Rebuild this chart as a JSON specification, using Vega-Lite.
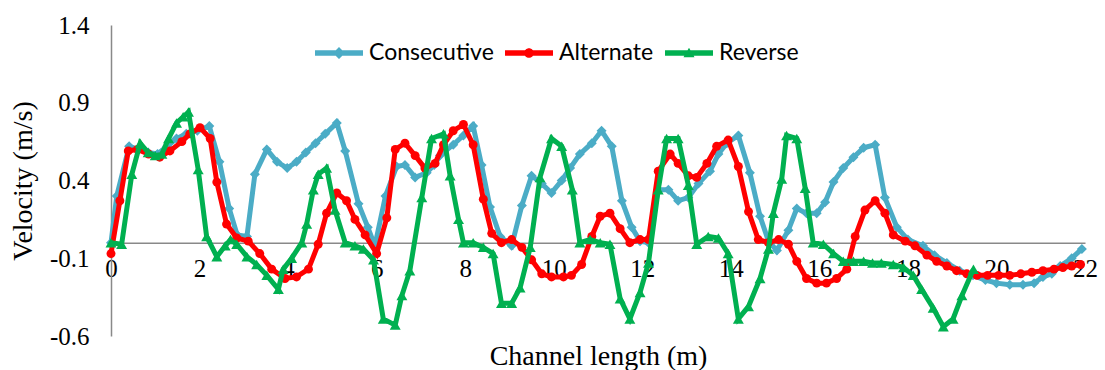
{
"$schema":"https://vega.github.io/schema/vega-lite/v6.json",
"width":974,"height":311,
"autosize":"none",
"padding":{"left":111,"top":25,"right":20,"bottom":34},
"background":"white",
"config":{"view":{"stroke":null},"font":"Liberation Serif"},
"data":{"values":[
{"series":"Consecutive","x":0,"v":0.0},{"series":"Consecutive","x":0.13,"v":0.30},{"series":"Consecutive","x":0.41,"v":0.62},{"series":"Consecutive","x":0.62,"v":0.60},{"series":"Consecutive","x":0.84,"v":0.58},{"series":"Consecutive","x":1.05,"v":0.57},{"series":"Consecutive","x":1.27,"v":0.62},{"series":"Consecutive","x":1.48,"v":0.67},{"series":"Consecutive","x":1.7,"v":0.70},{"series":"Consecutive","x":1.95,"v":0.72},{"series":"Consecutive","x":2.22,"v":0.75},{"series":"Consecutive","x":2.45,"v":0.52},{"series":"Consecutive","x":2.67,"v":0.22},{"series":"Consecutive","x":2.85,"v":0.05},{"series":"Consecutive","x":3.07,"v":0.04},{"series":"Consecutive","x":3.25,"v":0.44},{"series":"Consecutive","x":3.52,"v":0.60},{"series":"Consecutive","x":3.75,"v":0.52},{"series":"Consecutive","x":3.98,"v":0.48},{"series":"Consecutive","x":4.19,"v":0.52},{"series":"Consecutive","x":4.4,"v":0.58},{"series":"Consecutive","x":4.62,"v":0.64},{"series":"Consecutive","x":4.84,"v":0.70},{"series":"Consecutive","x":5.1,"v":0.77},{"series":"Consecutive","x":5.29,"v":0.59},{"series":"Consecutive","x":5.59,"v":0.25},{"series":"Consecutive","x":5.8,"v":0.10},{"series":"Consecutive","x":5.96,"v":-0.02},{"series":"Consecutive","x":6.2,"v":0.30},{"series":"Consecutive","x":6.45,"v":0.49},{"series":"Consecutive","x":6.64,"v":0.50},{"series":"Consecutive","x":6.87,"v":0.42},{"series":"Consecutive","x":7.13,"v":0.45},{"series":"Consecutive","x":7.3,"v":0.50},{"series":"Consecutive","x":7.43,"v":0.56},{"series":"Consecutive","x":7.73,"v":0.63},{"series":"Consecutive","x":7.96,"v":0.69},{"series":"Consecutive","x":8.18,"v":0.75},{"series":"Consecutive","x":8.37,"v":0.50},{"series":"Consecutive","x":8.56,"v":0.23},{"series":"Consecutive","x":8.79,"v":0.04},{"series":"Consecutive","x":9.05,"v":-0.02},{"series":"Consecutive","x":9.28,"v":0.24},{"series":"Consecutive","x":9.5,"v":0.43},{"series":"Consecutive","x":9.73,"v":0.38},{"series":"Consecutive","x":9.95,"v":0.32},{"series":"Consecutive","x":10.18,"v":0.40},{"series":"Consecutive","x":10.37,"v":0.48},{"series":"Consecutive","x":10.59,"v":0.57},{"series":"Consecutive","x":10.86,"v":0.64},{"series":"Consecutive","x":11.08,"v":0.72},{"series":"Consecutive","x":11.31,"v":0.62},{"series":"Consecutive","x":11.54,"v":0.27},{"series":"Consecutive","x":11.76,"v":0.10},{"series":"Consecutive","x":11.95,"v":0.01},{"series":"Consecutive","x":12.14,"v":0.0},{"series":"Consecutive","x":12.36,"v":0.34},{"series":"Consecutive","x":12.59,"v":0.34},{"series":"Consecutive","x":12.81,"v":0.27},{"series":"Consecutive","x":13.04,"v":0.29},{"series":"Consecutive","x":13.27,"v":0.38},{"series":"Consecutive","x":13.53,"v":0.46},{"series":"Consecutive","x":13.72,"v":0.57},{"series":"Consecutive","x":13.91,"v":0.64},{"series":"Consecutive","x":14.17,"v":0.69},{"series":"Consecutive","x":14.43,"v":0.45},{"series":"Consecutive","x":14.66,"v":0.17},{"series":"Consecutive","x":14.85,"v":0.01},{"series":"Consecutive","x":15.04,"v":-0.05},{"series":"Consecutive","x":15.3,"v":0.08},{"series":"Consecutive","x":15.49,"v":0.22},{"series":"Consecutive","x":15.71,"v":0.19},{"series":"Consecutive","x":15.94,"v":0.19},{"series":"Consecutive","x":16.13,"v":0.26},{"series":"Consecutive","x":16.32,"v":0.39},{"series":"Consecutive","x":16.54,"v":0.48},{"series":"Consecutive","x":16.77,"v":0.55},{"series":"Consecutive","x":17.0,"v":0.61},{"series":"Consecutive","x":17.26,"v":0.63},{"series":"Consecutive","x":17.48,"v":0.29},{"series":"Consecutive","x":17.75,"v":0.10},{"series":"Consecutive","x":18.0,"v":0.02},{"series":"Consecutive","x":18.34,"v":-0.02},{"series":"Consecutive","x":18.6,"v":-0.08},{"series":"Consecutive","x":18.88,"v":-0.13},{"series":"Consecutive","x":19.17,"v":-0.18},{"series":"Consecutive","x":19.47,"v":-0.21},{"series":"Consecutive","x":19.75,"v":-0.24},{"series":"Consecutive","x":20.0,"v":-0.26},{"series":"Consecutive","x":20.3,"v":-0.27},{"series":"Consecutive","x":20.6,"v":-0.27},{"series":"Consecutive","x":20.85,"v":-0.26},{"series":"Consecutive","x":21.05,"v":-0.22},{"series":"Consecutive","x":21.25,"v":-0.20},{"series":"Consecutive","x":21.44,"v":-0.15},{"series":"Consecutive","x":21.7,"v":-0.10},{"series":"Consecutive","x":21.93,"v":-0.04},
{"series":"Alternate","x":0,"v":-0.07},{"series":"Alternate","x":0.2,"v":0.27},{"series":"Alternate","x":0.39,"v":0.59},{"series":"Alternate","x":0.6,"v":0.60},{"series":"Alternate","x":0.85,"v":0.57},{"series":"Alternate","x":1.1,"v":0.55},{"series":"Alternate","x":1.33,"v":0.59},{"series":"Alternate","x":1.6,"v":0.65},{"series":"Alternate","x":1.78,"v":0.70},{"series":"Alternate","x":2.01,"v":0.74},{"series":"Alternate","x":2.24,"v":0.67},{"series":"Alternate","x":2.39,"v":0.39},{"series":"Alternate","x":2.61,"v":0.12},{"series":"Alternate","x":2.84,"v":0.03},{"series":"Alternate","x":3.1,"v":0.01},{"series":"Alternate","x":3.36,"v":-0.07},{"series":"Alternate","x":3.63,"v":-0.17},{"series":"Alternate","x":3.93,"v":-0.23},{"series":"Alternate","x":4.19,"v":-0.22},{"series":"Alternate","x":4.46,"v":-0.17},{"series":"Alternate","x":4.68,"v":-0.01},{"series":"Alternate","x":4.87,"v":0.19},{"series":"Alternate","x":5.1,"v":0.32},{"series":"Alternate","x":5.32,"v":0.27},{"series":"Alternate","x":5.51,"v":0.15},{"series":"Alternate","x":5.74,"v":0.05},{"series":"Alternate","x":6.0,"v":-0.07},{"series":"Alternate","x":6.23,"v":0.16},{"series":"Alternate","x":6.42,"v":0.60},{"series":"Alternate","x":6.64,"v":0.64},{"series":"Alternate","x":6.87,"v":0.56},{"series":"Alternate","x":7.09,"v":0.48},{"series":"Alternate","x":7.32,"v":0.51},{"series":"Alternate","x":7.51,"v":0.63},{"series":"Alternate","x":7.73,"v":0.72},{"series":"Alternate","x":7.96,"v":0.76},{"series":"Alternate","x":8.18,"v":0.63},{"series":"Alternate","x":8.41,"v":0.28},{"series":"Alternate","x":8.6,"v":0.06},{"series":"Alternate","x":8.82,"v":0.0},{"series":"Alternate","x":9.05,"v":0.02},{"series":"Alternate","x":9.28,"v":-0.03},{"series":"Alternate","x":9.5,"v":-0.11},{"series":"Alternate","x":9.73,"v":-0.20},{"series":"Alternate","x":9.95,"v":-0.22},{"series":"Alternate","x":10.22,"v":-0.22},{"series":"Alternate","x":10.4,"v":-0.21},{"series":"Alternate","x":10.63,"v":-0.14},{"series":"Alternate","x":10.86,"v":0.04},{"series":"Alternate","x":11.05,"v":0.17},{"series":"Alternate","x":11.27,"v":0.19},{"series":"Alternate","x":11.5,"v":0.09},{"series":"Alternate","x":11.72,"v":0.0},{"series":"Alternate","x":11.95,"v":0.02},{"series":"Alternate","x":12.14,"v":0.02},{"series":"Alternate","x":12.36,"v":0.46},{"series":"Alternate","x":12.63,"v":0.57},{"series":"Alternate","x":12.81,"v":0.51},{"series":"Alternate","x":13.04,"v":0.43},{"series":"Alternate","x":13.23,"v":0.42},{"series":"Alternate","x":13.46,"v":0.51},{"series":"Alternate","x":13.68,"v":0.62},{"series":"Alternate","x":13.94,"v":0.66},{"series":"Alternate","x":14.17,"v":0.49},{"series":"Alternate","x":14.4,"v":0.20},{"series":"Alternate","x":14.62,"v":0.02},{"series":"Alternate","x":14.85,"v":0.0},{"series":"Alternate","x":15.08,"v":0.02},{"series":"Alternate","x":15.3,"v":-0.01},{"series":"Alternate","x":15.49,"v":-0.12},{"series":"Alternate","x":15.71,"v":-0.23},{"series":"Alternate","x":15.94,"v":-0.26},{"series":"Alternate","x":16.16,"v":-0.26},{"series":"Alternate","x":16.39,"v":-0.23},{"series":"Alternate","x":16.62,"v":-0.17},{"series":"Alternate","x":16.81,"v":0.04},{"series":"Alternate","x":17.03,"v":0.21},{"series":"Alternate","x":17.26,"v":0.27},{"series":"Alternate","x":17.48,"v":0.19},{"series":"Alternate","x":17.67,"v":0.05},{"series":"Alternate","x":17.94,"v":0.01},{"series":"Alternate","x":18.16,"v":-0.02},{"series":"Alternate","x":18.43,"v":-0.08},{"series":"Alternate","x":18.65,"v":-0.12},{"series":"Alternate","x":18.88,"v":-0.15},{"series":"Alternate","x":19.1,"v":-0.18},{"series":"Alternate","x":19.33,"v":-0.20},{"series":"Alternate","x":19.56,"v":-0.21},{"series":"Alternate","x":19.8,"v":-0.21},{"series":"Alternate","x":20.05,"v":-0.21},{"series":"Alternate","x":20.3,"v":-0.21},{"series":"Alternate","x":20.55,"v":-0.20},{"series":"Alternate","x":20.8,"v":-0.19},{"series":"Alternate","x":21.05,"v":-0.18},{"series":"Alternate","x":21.3,"v":-0.17},{"series":"Alternate","x":21.5,"v":-0.16},{"series":"Alternate","x":21.7,"v":-0.15},{"series":"Alternate","x":21.9,"v":-0.14},
{"series":"Reverse","x":0,"v":0.0},{"series":"Reverse","x":0.24,"v":-0.01},{"series":"Reverse","x":0.47,"v":0.44},{"series":"Reverse","x":0.66,"v":0.64},{"series":"Reverse","x":0.84,"v":0.58},{"series":"Reverse","x":1.0,"v":0.56},{"series":"Reverse","x":1.15,"v":0.57},{"series":"Reverse","x":1.3,"v":0.67},{"series":"Reverse","x":1.48,"v":0.77},{"series":"Reverse","x":1.63,"v":0.81},{"series":"Reverse","x":1.75,"v":0.84},{"series":"Reverse","x":1.97,"v":0.47},{"series":"Reverse","x":2.16,"v":0.04},{"series":"Reverse","x":2.39,"v":-0.09},{"series":"Reverse","x":2.58,"v":-0.02},{"series":"Reverse","x":2.7,"v":0.02},{"series":"Reverse","x":2.84,"v":-0.01},{"series":"Reverse","x":3.07,"v":-0.09},{"series":"Reverse","x":3.29,"v":-0.14},{"series":"Reverse","x":3.52,"v":-0.21},{"series":"Reverse","x":3.78,"v":-0.30},{"series":"Reverse","x":3.89,"v":-0.17},{"series":"Reverse","x":4.08,"v":-0.10},{"series":"Reverse","x":4.31,"v":0.0},{"series":"Reverse","x":4.42,"v":0.12},{"series":"Reverse","x":4.57,"v":0.34},{"series":"Reverse","x":4.68,"v":0.44},{"series":"Reverse","x":4.87,"v":0.48},{"series":"Reverse","x":5.06,"v":0.21},{"series":"Reverse","x":5.29,"v":0.0},{"series":"Reverse","x":5.51,"v":-0.02},{"series":"Reverse","x":5.7,"v":-0.04},{"series":"Reverse","x":5.93,"v":-0.11},{"series":"Reverse","x":6.15,"v":-0.49},{"series":"Reverse","x":6.42,"v":-0.53},{"series":"Reverse","x":6.57,"v":-0.34},{"series":"Reverse","x":6.75,"v":-0.18},{"series":"Reverse","x":7.02,"v":0.29},{"series":"Reverse","x":7.24,"v":0.67},{"series":"Reverse","x":7.51,"v":0.70},{"series":"Reverse","x":7.66,"v":0.43},{"series":"Reverse","x":7.85,"v":0.15},{"series":"Reverse","x":7.96,"v":0.0},{"series":"Reverse","x":8.18,"v":0.0},{"series":"Reverse","x":8.41,"v":-0.03},{"series":"Reverse","x":8.63,"v":-0.07},{"series":"Reverse","x":8.82,"v":-0.39},{"series":"Reverse","x":9.05,"v":-0.39},{"series":"Reverse","x":9.24,"v":-0.29},{"series":"Reverse","x":9.47,"v":-0.03},{"series":"Reverse","x":9.69,"v":0.42},{"series":"Reverse","x":9.95,"v":0.67},{"series":"Reverse","x":10.18,"v":0.62},{"series":"Reverse","x":10.42,"v":0.34},{"series":"Reverse","x":10.59,"v":0.0},{"series":"Reverse","x":10.82,"v":0.02},{"series":"Reverse","x":11.05,"v":0.0},{"series":"Reverse","x":11.27,"v":-0.01},{"series":"Reverse","x":11.5,"v":-0.36},{"series":"Reverse","x":11.72,"v":-0.49},{"series":"Reverse","x":11.95,"v":-0.32},{"series":"Reverse","x":12.14,"v":-0.13},{"series":"Reverse","x":12.36,"v":0.34},{"series":"Reverse","x":12.55,"v":0.67},{"series":"Reverse","x":12.81,"v":0.67},{"series":"Reverse","x":13.04,"v":0.37},{"series":"Reverse","x":13.23,"v":-0.01},{"series":"Reverse","x":13.49,"v":0.04},{"series":"Reverse","x":13.72,"v":0.03},{"series":"Reverse","x":13.94,"v":-0.07},{"series":"Reverse","x":14.17,"v":-0.49},{"series":"Reverse","x":14.4,"v":-0.41},{"series":"Reverse","x":14.66,"v":-0.23},{"series":"Reverse","x":14.85,"v":-0.04},{"series":"Reverse","x":14.96,"v":0.19},{"series":"Reverse","x":15.15,"v":0.41},{"series":"Reverse","x":15.26,"v":0.69},{"series":"Reverse","x":15.49,"v":0.67},{"series":"Reverse","x":15.68,"v":0.35},{"series":"Reverse","x":15.86,"v":0.0},{"series":"Reverse","x":16.09,"v":-0.01},{"series":"Reverse","x":16.32,"v":-0.07},{"series":"Reverse","x":16.54,"v":-0.12},{"series":"Reverse","x":16.77,"v":-0.12},{"series":"Reverse","x":17.0,"v":-0.12},{"series":"Reverse","x":17.2,"v":-0.13},{"series":"Reverse","x":17.4,"v":-0.13},{"series":"Reverse","x":17.67,"v":-0.14},{"series":"Reverse","x":17.9,"v":-0.16},{"series":"Reverse","x":18.12,"v":-0.21},{"series":"Reverse","x":18.31,"v":-0.30},{"series":"Reverse","x":18.57,"v":-0.42},{"series":"Reverse","x":18.8,"v":-0.54},{"series":"Reverse","x":19.02,"v":-0.49},{"series":"Reverse","x":19.22,"v":-0.34},{"series":"Reverse","x":19.48,"v":-0.17}
]},
"encoding":{
"x":{"field":"x","type":"quantitative","scale":{"domain":[0,22],"nice":false,"zero":false},
"axis":{"values":[0,2,4,6,8,10,12,14,16,18,20,22],"format":"d","offset":-93.3,"ticks":false,"grid":false,"labelFlush":false,"labelOverlap":false,"labelFont":"Liberation Serif","labelFontSize":25,"labelColor":"#000","labelPadding":14,"domainColor":"#898989","domainWidth":1.5,"title":"Channel length (m)","titleFont":"Liberation Serif","titleFontSize":28,"titleFontWeight":"normal","titleColor":"#000","titleBaseline":"alphabetic","titleY":122,"titleX":487}},
"y":{"field":"v","type":"quantitative","scale":{"domain":[-0.6,1.4],"nice":false,"zero":false},
"axis":{"values":[-0.6,-0.1,0.4,0.9,1.4],"labelExpr":"replace(format(datum.value,'.1f'),'\u2212','-')","ticks":false,"grid":false,"labelFlush":false,"labelOverlap":false,"labelFont":"Liberation Serif","labelFontSize":25,"labelColor":"#000","labelPadding":22,"domainColor":"#898989","domainWidth":1.5,"title":"Velocity (m/s)","titleFont":"Liberation Serif","titleFontSize":28,"titleFontWeight":"normal","titleColor":"#000","titlePadding":12}},
"color":{"field":"series","type":"nominal","scale":{"domain":["Consecutive","Alternate","Reverse"],"range":["#4BACC6","#FF0000","#00B050"]},
"legend":{"orient":"none","legendX":204,"legendY":4,"direction":"horizontal","title":null,"padding":0,"labelFont":"Lato","labelFontSize":23,"labelColor":"#000","labelOffset":6,"columnPadding":11,"symbolSize":2304,"symbolStrokeWidth":0,"symbolType":"M-1,-0.11H1V0.11H-1Z",
"encode":{"symbols":{"update":{
"shape":{"signal":"datum.value === 'Consecutive' ? 'M-1,-0.11H1V0.11H-1Z M-0.25,0L0,-0.25L0.25,0L0,0.25Z' : datum.value === 'Alternate' ? 'M-1,-0.11H1V0.11H-1Z M-0.2,0A0.2,0.2 0 1,1 0.2,0A0.2,0.2 0 1,1 -0.2,0Z' : 'M-1,-0.11H1V0.11H-1Z M-0.23,0.18L0,-0.22L0.23,0.18Z'"},
"fill":{"signal":"datum.value === 'Consecutive' ? '#4BACC6' : datum.value === 'Alternate' ? '#FF0000' : '#00B050'"},
"fillOpacity":{"value":1},
"strokeWidth":{"value":0}}}}}}
},
"layer":[
{"transform":[{"filter":"datum.series === 'Consecutive'"}],"mark":{"type":"line","strokeWidth":5,"point":{"shape":"diamond","size":100,"filled":true}}},
{"transform":[{"filter":"datum.series === 'Alternate'"}],"mark":{"type":"line","strokeWidth":5,"point":{"shape":"circle","size":80,"filled":true}}},
{"transform":[{"filter":"datum.series === 'Reverse'"}],"mark":{"type":"line","strokeWidth":5,"point":{"shape":"triangle-up","size":120,"filled":true}}}
]
}
